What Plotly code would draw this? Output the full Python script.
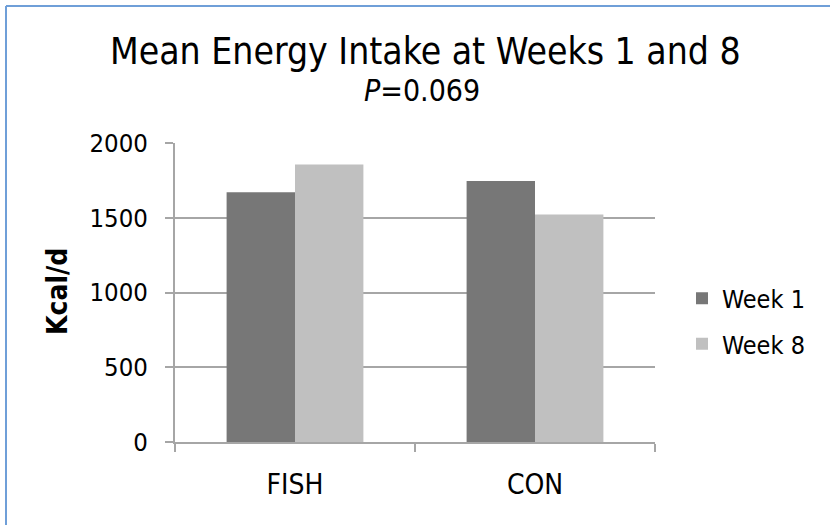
import plotly.graph_objects as go

categories = ["FISH", "CON"]
week1 = [1670, 1745]
week8 = [1857, 1522]
series_names = ["Week 1", "Week 8"]
y_ticks = [0, 500, 1000, 1500, 2000]

FONT = "DejaVu Sans Condensed, DejaVu Sans, Verdana, sans-serif"
GRID = "#a6a6a6"

L, R, T, B = 175, 175, 143, 83
W, H = 830, 525
pw, ph = W - L - R, H - T - B

def px_x(x):
    return (x - L) / pw

def px_y(y):
    return (H - B - y) / ph

fig = go.Figure()
fig.add_trace(go.Bar(x=categories, y=week1, name=series_names[0], marker_color="#777777",
                     marker_line_width=0, legendgroup="a"))
fig.add_trace(go.Bar(x=categories, y=week8, name=series_names[1], marker_color="#c0c0c0",
                     marker_line_width=0, legendgroup="b"))

fig.update_layout(
    width=W, height=H,
    margin=dict(l=L, r=R, t=T, b=B),
    paper_bgcolor="white", plot_bgcolor="white",
    barmode="group", bargap=0.43, bargroupgap=0,
    font=dict(family=FONT, color="black"),
    showlegend=True,
    legend=dict(x=px_x(682), y=px_y(321), xanchor="left", yanchor="middle",
                font=dict(size=25, family=FONT), tracegroupgap=10,
                bgcolor="rgba(0,0,0,0)"),
    xaxis=dict(showgrid=False, showline=True, linecolor=GRID, linewidth=2,
               ticks="outside", ticklen=8, tickcolor=GRID, tickwidth=2,
               tickson="boundaries", tickfont=dict(size=28, family=FONT),
               ticklabelstandoff=16),
    yaxis=dict(range=[0, 2000], tickvals=y_ticks, showgrid=True, gridcolor=GRID,
               gridwidth=2, showline=True, linecolor=GRID, linewidth=2,
               ticks="outside", ticklen=8, tickcolor=GRID, tickwidth=2,
               tickfont=dict(size=25.5, family=FONT), ticklabelstandoff=12,
               zeroline=False),
    annotations=[
        dict(text="Mean Energy Intake at Weeks 1 and 8", xref="paper", yref="paper",
             x=px_x(425), y=px_y(51), xanchor="center", yanchor="middle",
             showarrow=False, font=dict(size=37, family=FONT)),
        dict(text="<i>P</i>=0.069", xref="paper", yref="paper",
             x=px_x(422), y=px_y(91), xanchor="center", yanchor="middle",
             showarrow=False, font=dict(size=30, family=FONT)),
        dict(text="<b>Kcal/d</b>", xref="paper", yref="paper",
             x=px_x(57), y=px_y(292), xanchor="center", yanchor="middle",
             textangle=-90, showarrow=False, font=dict(size=28, family=FONT)),
    ],
    shapes=[
        dict(type="line", xref="paper", yref="paper", x0=px_x(6), x1=px_x(840),
             y0=px_y(6), y1=px_y(6), line=dict(color="#6f9fd8", width=2)),
        dict(type="line", xref="paper", yref="paper", x0=px_x(6), x1=px_x(6),
             y0=px_y(6), y1=px_y(540), line=dict(color="#6f9fd8", width=2)),
    ],
)

fig.write_html("out.html")
